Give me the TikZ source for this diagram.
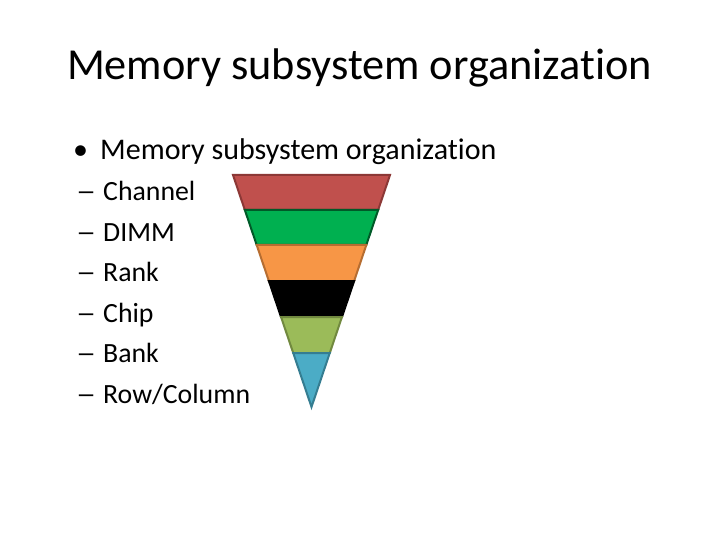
\documentclass[tikz,border=0pt]{standalone}
\usepackage{fontspec}
\setmainfont{Carlito}[Ligatures=NoCommon]
\usetikzlibrary{positioning}

\definecolor{chanred}{HTML}{C0504D}
\definecolor{chanredd}{HTML}{8C3836}
\definecolor{dimmgreen}{HTML}{00B050}
\definecolor{dimmgreend}{HTML}{005A28}
\definecolor{rankorange}{HTML}{F79646}
\definecolor{rankoranged}{HTML}{B66D31}
\definecolor{chipblack}{HTML}{000000}
\definecolor{chipblackd}{HTML}{000000}
\definecolor{bankolive}{HTML}{9BBB59}
\definecolor{bankolived}{HTML}{71893F}
\definecolor{rowblue}{HTML}{4BACC6}
\definecolor{rowblued}{HTML}{357D91}

\newcommand{\subdash}{\makebox[25bp][l]{\hspace{-2bp}\scalebox{1.45}[1]{--}}}

\begin{document}
\begin{tikzpicture}[x=1bp,y=-1bp,node distance=40.5bp,
  title/.style={anchor=base,inner sep=0pt,font=\fontsize{44.3bp}{53bp}\selectfont},
  lvlone/.style={anchor=base west,inner sep=0pt,font=\fontsize{30bp}{36bp}\selectfont},
  lvltwo/.style={anchor=base west,inner sep=0pt,font=\fontsize{27.8bp}{33bp}\selectfont},
  band/.style={line width=2bp,line join=miter}]

  \useasboundingbox (0,0) rectangle (720,540);

  \node[title] (title) at (359.5,80) {Memory subsystem organization};

  \node[lvlone] (bullet) at (73,160) {\textbullet};
  \node[lvlone] (memsub) at (100,160) {Memory subsystem organization};

  \node[lvltwo] (chan) at (78,200.7) {\subdash Channel};
  \node[lvltwo] (dimm) [below=of chan.base west, anchor=base west] {\subdash DIMM};
  \node[lvltwo] (rank) [below=of dimm.base west, anchor=base west] {\subdash Rank};
  \node[lvltwo] (chip) [below=of rank.base west, anchor=base west] {\subdash Chip};
  \node[lvltwo] (bank) [below=of chip.base west, anchor=base west] {\subdash Bank};
  \node[lvltwo] (rowcol) [below=of bank.base west, anchor=base west] {\subdash Row/Column};

  % funnel, one band per level
  \foreach \ytop/\ybot/\fillc/\linec in {175/210/chanred/chanredd,
      210/245/dimmgreen/dimmgreend, 245/281/rankorange/rankoranged,
      281/317/chipblack/chipblackd, 317/353/bankolive/bankolived,
      353/407/rowblue/rowblued} {
    \pgfmathsetmacro\wt{78.5/232*(407-\ytop)}
    \pgfmathsetmacro\wb{78.5/232*(407-\ybot)}
    \draw[band,fill=\fillc,draw=\linec] (311.5-\wt,\ytop) -- (311.5+\wt,\ytop)
      -- (311.5+\wb,\ybot) -- (311.5-\wb,\ybot) -- cycle;
  }
\end{tikzpicture}
\end{document}
